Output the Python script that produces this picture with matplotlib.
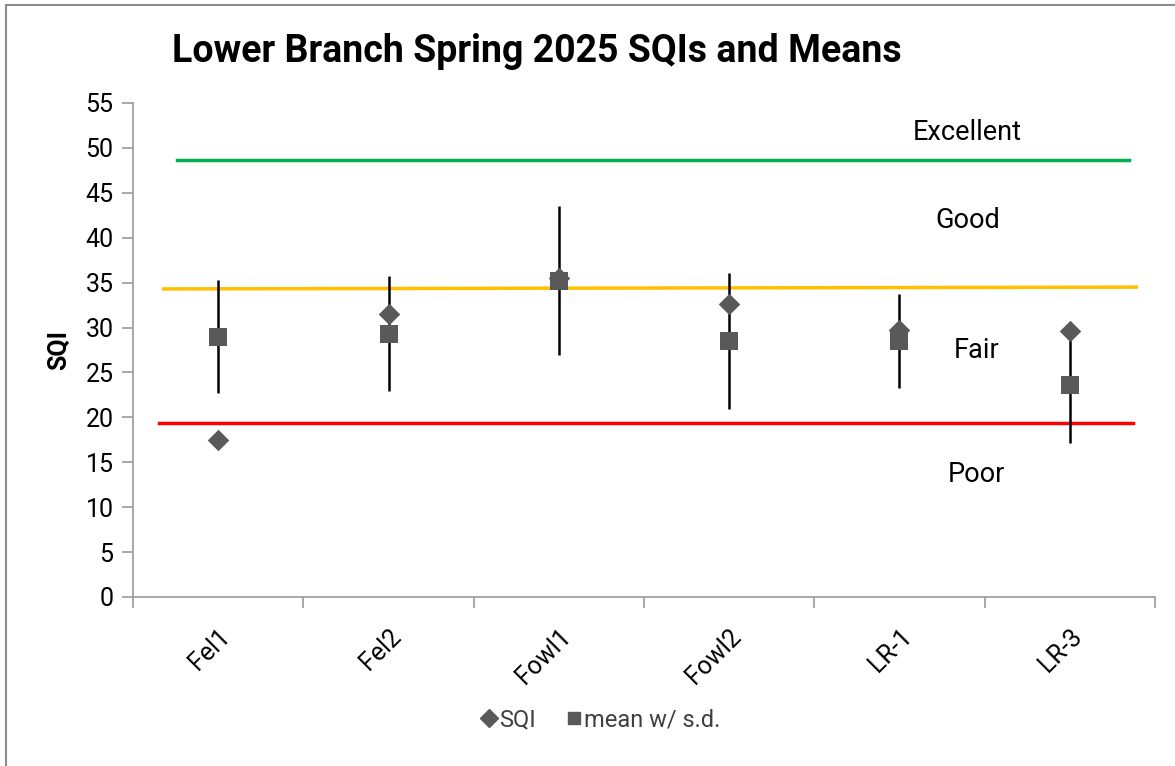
import numpy as np
import matplotlib.pyplot as plt
from matplotlib.lines import Line2D

plt.rcParams['font.family'] = ['Roboto', 'DejaVu Sans']

sites = ['Fel1', 'Fel2', 'Fowl1', 'Fowl2', 'LR-1', 'LR-3']
sqi = [17.5, 31.5, 35.5, 32.6, 29.7, 29.6]
mean = [29.0, 29.3, 35.2, 28.5, 28.5, 23.6]
sd = [6.3, 6.4, 8.3, 7.6, 5.2, 6.5]

# rating threshold lines
lim_x = [-0.24, 5.35]
excellent_y = [48.7, 48.7]
good_x = [-0.32, 5.39]
good_y = [34.3, 34.5]
fair_x = [-0.35, 5.37]
fair_y = [19.4, 19.4]

bands = ['Excellent', 'Good', 'Fair', 'Poor']
band_y = [51.7, 41.9, 27.5, 13.6]
band_x = [4.40, 4.40, 4.45, 4.45]

fig = plt.figure(figsize=(11.75, 7.66), dpi=100)
ax = fig.add_axes([133 / 1175, 1 - 597 / 766, (1155 - 133) / 1175, (597 - 103) / 766])

x = np.arange(len(sites))
grey = '#595959'

ax.plot(lim_x, excellent_y, color='#00b050', lw=2.5, zorder=1)
ax.plot(good_x, good_y, color='#ffc000', lw=2.5, zorder=1)
ax.plot(fair_x, fair_y, color='#ff0000', lw=2.5, zorder=1)

ax.errorbar(x, mean, yerr=sd, fmt='none', ecolor='black', elinewidth=1.8, capsize=0, zorder=2)
ax.scatter(x, sqi, marker='D', s=120, color=grey, zorder=3, linewidths=0)
ax.scatter(x, mean, marker='s', s=150, color=grey, zorder=4, linewidths=0)

for b, bx, by in zip(bands, band_x, band_y):
    ax.text(bx, by, b, fontsize=19.5, ha='center', va='center', color='black')

ax.set_xlim(-0.5, 5.5)
ax.set_ylim(0, 55)
ax.set_yticks(np.arange(0, 56, 5))
ax.set_xticks(x)
ax.set_xticklabels(sites, rotation=45, ha='right', rotation_mode='anchor')
ax.set_xticks(np.arange(-0.5, 6, 1), minor=True)
ax.tick_params(axis='x', which='major', length=0, labelsize=18, pad=20)
ax.tick_params(axis='x', which='minor', length=8, color='#999999', width=1.2, direction='out')
ax.tick_params(axis='y', length=8, color='#999999', width=1.2, labelsize=18, pad=6)
for s in ['top', 'right']:
    ax.spines[s].set_visible(False)
for s in ['left', 'bottom']:
    ax.spines[s].set_color('#999999')
    ax.spines[s].set_linewidth(1.2)

ax.set_ylabel('SQI', fontsize=18, fontweight='bold', labelpad=10)

fig.text(172 / 1175, 1 - 51 / 766, 'Lower Branch Spring 2025 SQIs and Means',
         fontsize=27, fontweight='bold', ha='left', va='center')

handles = [Line2D([], [], marker='D', ls='none', color=grey, markersize=9),
           Line2D([], [], marker='s', ls='none', color=grey, markersize=9)]
fig.legend(handles, ['SQI', 'mean w/ s.d.'], loc='center', bbox_to_anchor=(600 / 1175, 1 - 720 / 766),
           ncol=2, frameon=False, fontsize=17, handletextpad=0.05, columnspacing=1.2,
           labelcolor='#404040', handlelength=0.8)

# chart frame
fig.add_artist(Line2D([6 / 1175, 6 / 1175], [0, 1 - 5 / 766], color='#8c8c8c', lw=1.5))
fig.add_artist(Line2D([6 / 1175, 1], [1 - 5 / 766, 1 - 5 / 766], color='#8c8c8c', lw=1.5))

fig.savefig('out.png', dpi=100)
